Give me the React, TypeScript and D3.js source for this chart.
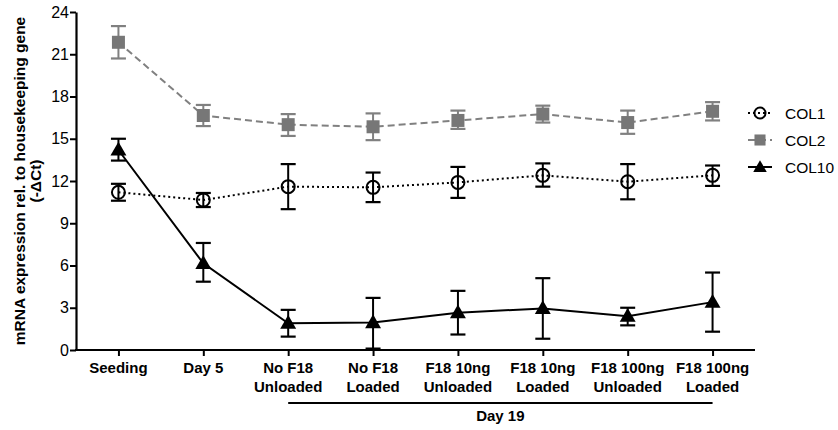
import React, { useRef, useEffect } from 'react';
import * as d3 from 'd3';

const categories = [
  ['Seeding'],
  ['Day 5'],
  ['No F18', 'Unloaded'],
  ['No F18', 'Loaded'],
  ['F18 10ng', 'Unloaded'],
  ['F18 10ng', 'Loaded'],
  ['F18 100ng', 'Unloaded'],
  ['F18 100ng', 'Loaded'],
];

const col1Mean = [11.2, 10.65, 11.6, 11.55, 11.9, 12.4, 11.95, 12.4];
const col1Low = [10.6, 10.15, 10.0, 10.5, 10.8, 11.6, 10.7, 11.65];
const col1High = [11.8, 11.15, 13.2, 12.6, 13.0, 13.25, 13.2, 13.1];

const col2Mean = [21.85, 16.65, 16.0, 15.85, 16.3, 16.75, 16.15, 16.95];
const col2Low = [20.7, 15.9, 15.2, 14.9, 15.7, 16.15, 15.35, 16.3];
const col2High = [23.0, 17.4, 16.75, 16.8, 17.0, 17.35, 17.0, 17.6];

const col10Mean = [14.2, 6.15, 1.9, 1.95, 2.65, 2.95, 2.4, 3.4];
const col10Low = [13.45, 4.85, 0.95, 0.1, 1.1, 0.8, 1.75, 1.3];
const col10High = [15.0, 7.6, 2.85, 3.7, 4.2, 5.1, 3.0, 5.5];

const yTicks = [0, 3, 6, 9, 12, 15, 18, 21, 24];

const series = [
  { name: 'COL1', mean: col1Mean, low: col1Low, high: col1High, color: '#000', dash: '2,3', marker: 'circle' },
  { name: 'COL2', mean: col2Mean, low: col2Low, high: col2High, color: '#808080', dash: '7,4', marker: 'square' },
  { name: 'COL10', mean: col10Mean, low: col10Low, high: col10High, color: '#000', dash: null, marker: 'triangle' },
];

const font = 'Arial, "Liberation Sans", sans-serif';

const App = () => {
  const ref = useRef(null);

  useEffect(() => {
    document.body.style.margin = '0';
    const svg = d3.select(ref.current).attr('width', 838).attr('height', 430).style('background', 'white');
    svg.selectAll('*').remove();

    const left = 76, right = 755, top = 12, bottom = 350;
    const x = d3.scalePoint().domain(categories.map((d, i) => String(i))).range([left, right]).padding(0.5);
    const y = d3.scaleLinear().domain([0, 24]).range([bottom, top]);

    // y axis
    const yAxis = svg.append('g').attr('transform', `translate(${left},0)`)
      .call(d3.axisLeft(y).tickValues(yTicks).tickSize(6).tickSizeOuter(0).tickPadding(1));
    yAxis.select('.domain').attr('stroke-width', 2.2);
    yAxis.selectAll('.tick line').attr('stroke-width', 2);
    yAxis.selectAll('text').attr('font-family', font).attr('font-size', 16).attr('fill', '#000');

    // x axis
    const xAxis = svg.append('g').attr('transform', `translate(0,${bottom})`)
      .call(d3.axisBottom(x).tickSize(6).tickSizeOuter(0).tickFormat(() => ''));
    xAxis.select('.domain').attr('d', `M${left - 1},0H${right}`).attr('stroke-width', 2.2);
    xAxis.selectAll('.tick line').attr('stroke-width', 2);

    categories.forEach((lines, i) => {
      const t = svg.append('text').attr('x', x(String(i))).attr('y', 373)
        .attr('text-anchor', 'middle').attr('font-family', font).attr('font-size', 15).attr('font-weight', 'bold');
      lines.forEach((l, j) => t.append('tspan').attr('x', x(String(i))).attr('dy', j === 0 ? 0 : 19).text(l));
    });

    // Day 19 bracket
    svg.append('line').attr('x1', x('2')).attr('x2', x('7')).attr('y1', 403).attr('y2', 403)
      .attr('stroke', '#000').attr('stroke-width', 2);
    svg.append('text').attr('x', (x('2') + x('7')) / 2).attr('y', 421).attr('text-anchor', 'middle')
      .attr('font-family', font).attr('font-size', 15).attr('font-weight', 'bold').text('Day 19');

    // y title
    const title = svg.append('text').attr('transform', `translate(25,${(top + bottom) / 2}) rotate(-90)`)
      .attr('text-anchor', 'middle').attr('font-family', font).attr('font-size', 15.5).attr('font-weight', 'bold');
    title.append('tspan').attr('x', 0).attr('dy', 0).text('mRNA expression rel. to housekeeping gene');
    title.append('tspan').attr('x', 0).attr('dy', 16).text('(-\u0394Ct)');

    const drawMarker = (g, s, cx, cy, scale = 1) => {
      if (s.marker === 'circle') {
        g.append('circle').attr('cx', cx).attr('cy', cy).attr('r', 6.5 * scale)
          .attr('fill', 'none').attr('stroke', '#000').attr('stroke-width', 2);
      } else if (s.marker === 'square') {
        const h = 6.5 * scale;
        g.append('rect').attr('x', cx - h).attr('y', cy - h).attr('width', 2 * h).attr('height', 2 * h)
          .attr('fill', '#777');
      } else {
        const sym = d3.symbol().type(d3.symbolTriangle).size(110 * scale * scale);
        g.append('path').attr('d', sym()).attr('transform', `translate(${cx},${cy + 1})`).attr('fill', '#000');
      }
    };

    series.forEach((s) => {
      const g = svg.append('g');
      const line = d3.line().x((d, i) => x(String(i))).y((d) => y(d));
      g.append('path').attr('d', line(s.mean)).attr('fill', 'none').attr('stroke', s.color)
        .attr('stroke-width', 2).attr('stroke-dasharray', s.dash);
      s.mean.forEach((m, i) => {
        const cx = x(String(i));
        const ec = s.marker === 'square' ? '#808080' : '#000';
        g.append('line').attr('x1', cx).attr('x2', cx).attr('y1', y(s.low[i])).attr('y2', y(s.high[i]))
          .attr('stroke', ec).attr('stroke-width', 2);
        [s.low[i], s.high[i]].forEach((v) => {
          g.append('line').attr('x1', cx - 7.5).attr('x2', cx + 7.5).attr('y1', y(v)).attr('y2', y(v))
            .attr('stroke', ec).attr('stroke-width', 2.2);
        });
        drawMarker(g, s, cx, y(m));
      });
    });

    // legend
    series.forEach((s, i) => {
      const ly = 113 + i * 27;
      const g = svg.append('g');
      g.append('line').attr('x1', 748).attr('x2', 772).attr('y1', ly).attr('y2', ly)
        .attr('stroke', s.color).attr('stroke-width', 2).attr('stroke-dasharray', s.dash);
      drawMarker(g, s, 760, ly, 0.85);
      g.append('text').attr('x', 785).attr('y', ly + 5.5).attr('font-family', font).attr('font-size', 15.5)
        .text(s.name);
    });
  }, []);

  return <svg ref={ref}></svg>;
};

export default App;
